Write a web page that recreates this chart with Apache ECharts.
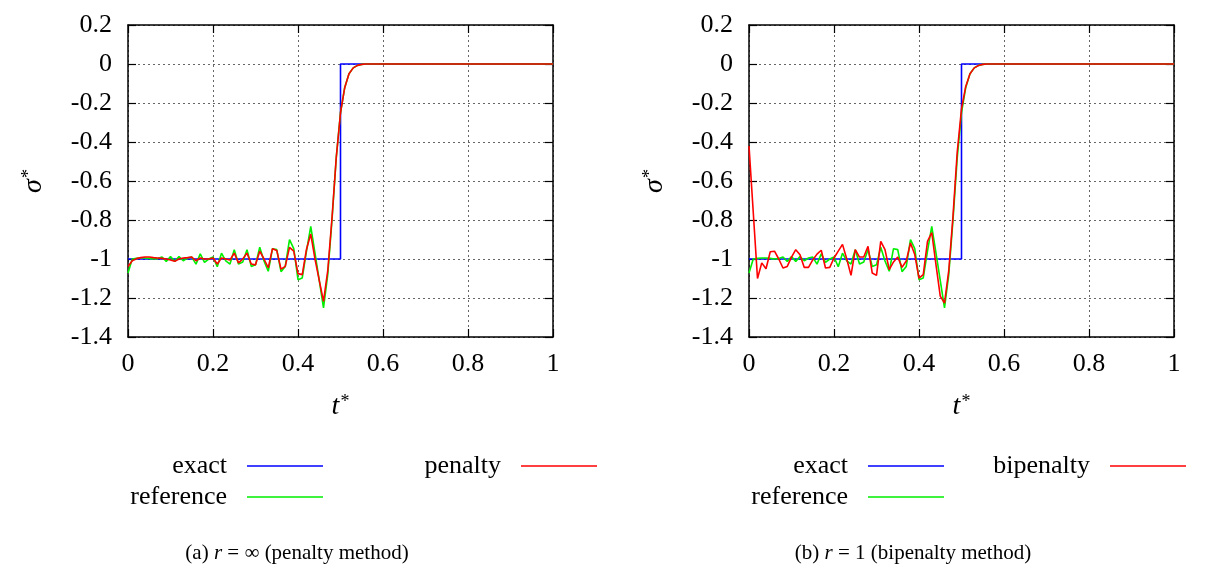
<!DOCTYPE html>
<html lang="en">
<head>
<meta charset="UTF-8">
<title>penalty vs bipenalty</title>
<style>
  html, body { margin: 0; padding: 0; background: #fff; }
  #chart { width: 1218px; height: 578px; }
</style>
</head>
<body>
<div id="chart"></div>
<script src="https://cdn.jsdelivr.net/npm/echarts@6.0.0/dist/echarts.min.js"></script>
<script>
// sample times (t*) of the computed curves
const tPts = [0, 0.01, 0.02, 0.03, 0.04, 0.05, 0.06, 0.07, 0.08, 0.09,
  0.10, 0.11, 0.12, 0.13, 0.14, 0.15, 0.16, 0.17, 0.18, 0.19,
  0.20, 0.21, 0.22, 0.23, 0.24, 0.25, 0.26, 0.27, 0.28, 0.29,
  0.30, 0.31, 0.32, 0.33, 0.34, 0.35, 0.36, 0.37, 0.38, 0.39,
  0.40, 0.41, 0.42, 0.43, 0.44, 0.45, 0.46, 0.47, 0.48, 0.49,
  0.50, 0.51, 0.52, 0.53, 0.54, 0.55, 0.56, 1];

const reference = [-1.072, -1.0, -0.997, -0.995, -0.995, -0.997, -1.0, -0.998, -0.99, -1.012,
  -0.988, -1.012, -0.988, -1.009, -0.995, -0.99, -1.026, -0.974, -1.017, -1.0,
  -0.99, -1.04, -0.97, -1.01, -1.026, -0.952, -1.026, -1.015, -0.952, -1.038,
  -1.03, -0.94, -1.01, -1.063, -0.947, -0.952, -1.065, -1.038, -0.901, -0.947,
  -1.106, -1.097, -0.96, -0.833, -0.97, -1.11, -1.251, -1.08, -0.8, -0.48,
  -0.25, -0.12, -0.05, -0.02, -0.007, -0.002, 0, 0];

const penalty = [-1.038, -1.009, -0.998, -0.993, -0.99, -0.99, -0.993, -0.995, -0.997, -1.0,
  -1.005, -1.012, -1.0, -0.995, -0.993, -0.99, -1.009, -0.995, -1.0, -1.0,
  -0.995, -1.026, -0.995, -1.0, -1.005, -0.97, -1.02, -1.0, -0.97, -1.026,
  -1.03, -0.96, -1.0, -1.045, -0.947, -0.956, -1.052, -1.038, -0.94, -0.96,
  -1.075, -1.08, -0.95, -0.872, -1.0, -1.11, -1.217, -1.06, -0.79, -0.48,
  -0.25, -0.12, -0.05, -0.02, -0.007, -0.002, 0, 0];

const bipenalty = [-0.42, -0.76, -1.10, -1.02, -1.05, -0.963, -0.96, -1.0, -1.046, -1.038,
  -0.99, -0.952, -0.978, -1.043, -1.043, -1.005, -0.975, -0.955, -1.046, -1.043,
  -0.995, -0.96, -0.925, -1.0, -1.084, -0.952, -0.99, -0.99, -0.935, -1.072,
  -1.084, -0.91, -0.952, -1.055, -1.015, -0.99, -1.043, -1.01, -0.918, -0.977,
  -1.098, -1.08, -0.91, -0.864, -1.03, -1.19, -1.226, -1.06, -0.78, -0.45,
  -0.23, -0.115, -0.05, -0.02, -0.008, -0.002, 0, 0];

// exact solution: step at t* = 0.5
const exactT = [0, 0.5, 0.5, 1];
const exactS = [-1, -1, 0, 0];

const yTicks = { min: -1.4, max: 0.2, interval: 0.2 };
const xTicks = { min: 0, max: 1, interval: 0.2 };

const serif = "'Liberation Serif', 'DejaVu Serif', serif";
const pairs = (xs, ys) => xs.map((x, i) => [x, ys[i]]);

const chart = echarts.init(document.getElementById('chart'));

const plotW = 425, plotTop = 25, plotH = 312;
const lefts = [128, 749];

function tickFmt(v) {
  return String(Math.round(v * 10) / 10);
}

const grids = [], xAxes = [], yAxes = [], series = [];
lefts.forEach((l, g) => {
  grids.push({ left: l, top: plotTop, width: plotW, height: plotH, show: false });
  const line = { show: true, onZero: false, lineStyle: { color: '#000', width: 1.5 } };
  const tick = { show: true, inside: true, length: 8, lineStyle: { color: '#000', width: 1.2 } };
  xAxes.push({
    type: 'value', gridIndex: g, position: 'bottom', ...xTicks,
    axisLine: line, axisTick: tick,
    axisLabel: { color: '#000', fontFamily: serif, fontSize: 26, margin: 14, formatter: tickFmt },
    splitLine: { show: true, lineStyle: { color: '#666', type: [2, 3], width: 1 } },
    name: '{t|t}{s|*}', nameLocation: 'middle', nameGap: 56,
    nameTextStyle: {
      rich: {
        t: { fontFamily: serif, fontStyle: 'italic', fontSize: 28, color: '#000' },
        s: { fontFamily: serif, fontSize: 18, color: '#000', verticalAlign: 'top', padding: [0, 0, 10, 1] }
      }
    }
  });
  xAxes.push({
    type: 'value', gridIndex: g, position: 'top', ...xTicks,
    axisLine: line, axisTick: tick, axisLabel: { show: false }, splitLine: { show: false }
  });
  yAxes.push({
    type: 'value', gridIndex: g, position: 'left', ...yTicks,
    axisLine: line, axisTick: tick,
    axisLabel: { color: '#000', fontFamily: serif, fontSize: 26, margin: 16, formatter: tickFmt },
    splitLine: { show: true, lineStyle: { color: '#666', type: [2, 3], width: 1 } },
    name: '{t|σ}{s|*}', nameLocation: 'middle', nameGap: 80, nameRotate: 90,
    nameTextStyle: {
      rich: {
        t: { fontFamily: serif, fontStyle: 'italic', fontSize: 28, color: '#000' },
        s: { fontFamily: serif, fontSize: 18, color: '#000', verticalAlign: 'top', padding: [0, 0, 10, 1] }
      }
    }
  });
  yAxes.push({
    type: 'value', gridIndex: g, position: 'right', ...yTicks,
    axisLine: line, axisTick: tick, axisLabel: { show: false }, splitLine: { show: false }
  });

  const xi = g * 2, yi = g * 2;
  const mk = (name, data, color) => ({
    name, type: 'line', xAxisIndex: xi, yAxisIndex: yi, data,
    symbol: 'none', showSymbol: false, animation: false,
    lineStyle: { color, width: 1.6 }, itemStyle: { color }
  });
  series.push(mk('exact', pairs(exactT, exactS), '#0000ff'));
  series.push(mk('reference', pairs(tPts, reference), '#00ee00'));
  series.push(g === 0 ? mk('penalty', pairs(tPts, penalty), '#ff0000')
                      : mk('bipenalty', pairs(tPts, bipenalty), '#ff0000'));
});

function legendItem(name, right, top) {
  return {
    data: [name], right, top, align: 'right', padding: 0,
    icon: 'rect', itemWidth: 76, itemHeight: 1.6, selectedMode: false,
    textStyle: { fontFamily: serif, fontSize: 26, color: '#000', lineHeight: 30, padding: [0, 15, 0, 0] }
  };
}

const legends = [
  legendItem('exact', 1218 - 323, 451),
  legendItem('reference', 1218 - 323, 482),
  legendItem('penalty', 1218 - 597, 451),
  legendItem('exact', 1218 - 944, 451),
  legendItem('reference', 1218 - 944, 482),
  legendItem('bipenalty', 1218 - 1186, 451)
];

const capRich = {
  n: { fontFamily: serif, fontSize: 21, color: '#000' },
  i: { fontFamily: serif, fontSize: 21, fontStyle: 'italic', color: '#000' }
};

chart.setOption({
  animation: false,
  grid: grids,
  xAxis: xAxes,
  yAxis: yAxes,
  legend: legends,
  series,
  graphic: [
    { type: 'text', x: 297, y: 553,
      style: { text: '{n|(a) }{i|r}{n| = ∞ (penalty method)}', rich: capRich, align: 'center', verticalAlign: 'middle' } },
    { type: 'text', x: 913, y: 553,
      style: { text: '{n|(b) }{i|r}{n| = 1 (bipenalty method)}', rich: capRich, align: 'center', verticalAlign: 'middle' } }
  ]
});
</script>
</body>
</html>
